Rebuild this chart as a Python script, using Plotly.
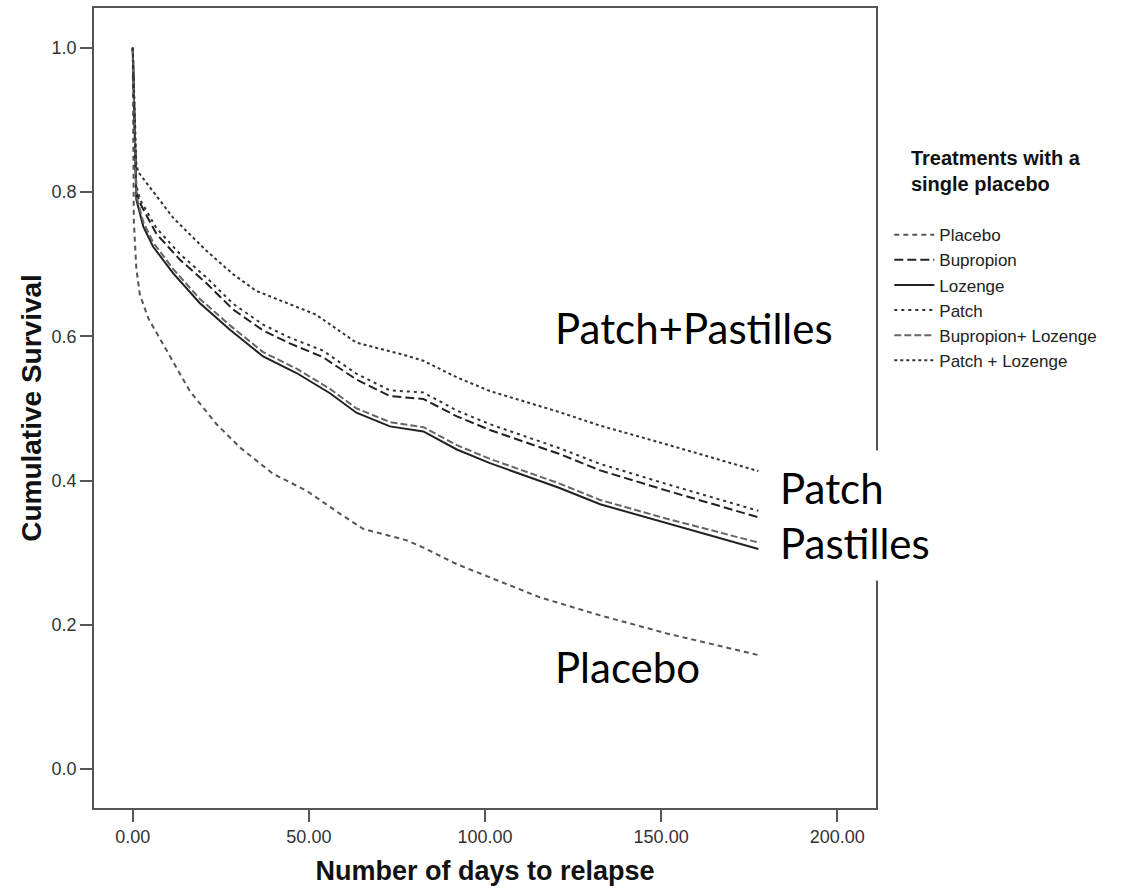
import plotly.graph_objects as go

# ---------------- data ----------------
placebo_days = [0, 0.3, 1, 2, 4.4, 9.6, 16.2, 23.8, 30.4, 39.9, 49.3, 58.8, 65.4, 77.8, 82.5, 92, 101.4, 115.6, 132.7, 151.6, 177.6]
placebo_surv = [1.0, 0.76, 0.695, 0.658, 0.625, 0.580, 0.524, 0.478, 0.446, 0.409, 0.386, 0.354, 0.333, 0.317, 0.307, 0.284, 0.266, 0.238, 0.213, 0.188, 0.158]

pair_days = [0, 1, 2, 6.7, 13.4, 21, 28.5, 37, 44.6, 54, 63.5, 73, 82.5, 92, 101.4, 121, 132.7, 151.6, 177.6]
patch_surv = [1.0, 0.81, 0.79, 0.75, 0.714, 0.681, 0.645, 0.616, 0.598, 0.580, 0.548, 0.525, 0.522, 0.497, 0.478, 0.445, 0.423, 0.395, 0.358]
bupropion_surv = [1.0, 0.80, 0.785, 0.742, 0.706, 0.673, 0.637, 0.608, 0.590, 0.571, 0.540, 0.517, 0.513, 0.489, 0.470, 0.437, 0.414, 0.386, 0.349]

loz_days = [0, 1, 3, 5.8, 11.5, 19, 27.6, 37, 46.5, 56, 63.5, 73, 82.5, 92, 101.4, 121, 132.7, 151.6, 177.6]
lozenge_surv = [1.0, 0.79, 0.752, 0.724, 0.687, 0.646, 0.609, 0.572, 0.549, 0.521, 0.494, 0.475, 0.468, 0.443, 0.424, 0.390, 0.367, 0.341, 0.305]
bup_loz_surv = [1.0, 0.795, 0.758, 0.730, 0.693, 0.652, 0.615, 0.578, 0.555, 0.527, 0.500, 0.481, 0.474, 0.449, 0.430, 0.396, 0.373, 0.347, 0.314]

patch_loz_days = [0, 1, 1.5, 11.5, 21, 28.5, 35, 44.6, 52, 63.5, 77.8, 82.5, 92, 101.4, 121, 132.7, 151.6, 177.6]
patch_loz_surv = [1.0, 0.84, 0.828, 0.764, 0.718, 0.686, 0.663, 0.644, 0.630, 0.591, 0.573, 0.566, 0.543, 0.524, 0.495, 0.476, 0.450, 0.413]

x_ticks = [0, 50, 100, 150, 200]
y_ticks = [0.0, 0.2, 0.4, 0.6, 0.8, 1.0]

series = [
    ("Placebo", placebo_days, placebo_surv, "#555555", "5px,4px"),
    ("Bupropion", pair_days, bupropion_surv, "#222222", "9px,4px"),
    ("Lozenge", loz_days, lozenge_surv, "#222222", "solid"),
    ("Patch", pair_days, patch_surv, "#333333", "3px,4px"),
    ("Bupropion+ Lozenge", loz_days, bup_loz_surv, "#666666", "7px,3px"),
    ("Patch + Lozenge", patch_loz_days, patch_loz_surv, "#333333", "3px,3px"),
]

fig = go.Figure()
for name, xs, ys, col, dash in series:
    fig.add_trace(go.Scatter(
        x=xs, y=ys, mode="lines", name=name,
        line=dict(color=col, width=2, dash=dash),
    ))

axis_common = dict(
    showline=True, mirror=True, linecolor="#555555", linewidth=1.5,
    showgrid=False, zeroline=False, ticks="outside", ticklen=12, tickwidth=2,
    tickcolor="#555555", tickfont=dict(family="Liberation Sans, Arial", size=18, color="#333333"),
)

fig.update_xaxes(
    range=[-11, 211], tickvals=x_ticks, tickformat=".2f",
    title=dict(text="<b>Number of days to relapse</b>", standoff=15,
               font=dict(family="Liberation Sans, Arial", size=27, color="#111111")),
    **axis_common,
)
fig.update_yaxes(
    range=[-0.054, 1.055], tickvals=y_ticks, tickformat=".1f",
    title=dict(text="<b>Cumulative Survival</b>", standoff=2,
               font=dict(family="Liberation Sans, Arial", size=28, color="#111111")),
    **axis_common,
)

annot_font = dict(family="Lato, Open Sans, sans-serif", size=42, color="#000000")
fig.add_annotation(x=119.3, y=0.612, xref="x", yref="y", text="Patch+Pastilles",
                   showarrow=False, xanchor="left", yanchor="middle", font=annot_font)
fig.add_annotation(x=180, y=0.352, xref="x", yref="y", text="Patch<br>Pastilles",
                   showarrow=False, xanchor="left", yanchor="middle", align="left",
                   bgcolor="#ffffff", borderpad=12, font=annot_font)
fig.add_annotation(x=119.3, y=0.142, xref="x", yref="y", text="Placebo",
                   showarrow=False, xanchor="left", yanchor="middle", font=annot_font)

fig.update_layout(
    width=1136, height=889,
    margin=dict(l=94, r=260, t=6, b=81),
    paper_bgcolor="#ffffff", plot_bgcolor="#ffffff",
    showlegend=True,
    legend=dict(
        x=1.017, y=0.836, xanchor="left", yanchor="top",
        bgcolor="rgba(0,0,0,0)",
        itemwidth=40,
        font=dict(family="Liberation Sans, Arial", size=17, color="#222222"),
        title=dict(text="<b>Treatments with a<br>single placebo</b><br><span style='font-size:10px'> </span>",
                   side="top center",
                   font=dict(family="Liberation Sans, Arial", size=20, color="#111111")),
        tracegroupgap=0,
    ),
)

fig.write_html("out.html")
